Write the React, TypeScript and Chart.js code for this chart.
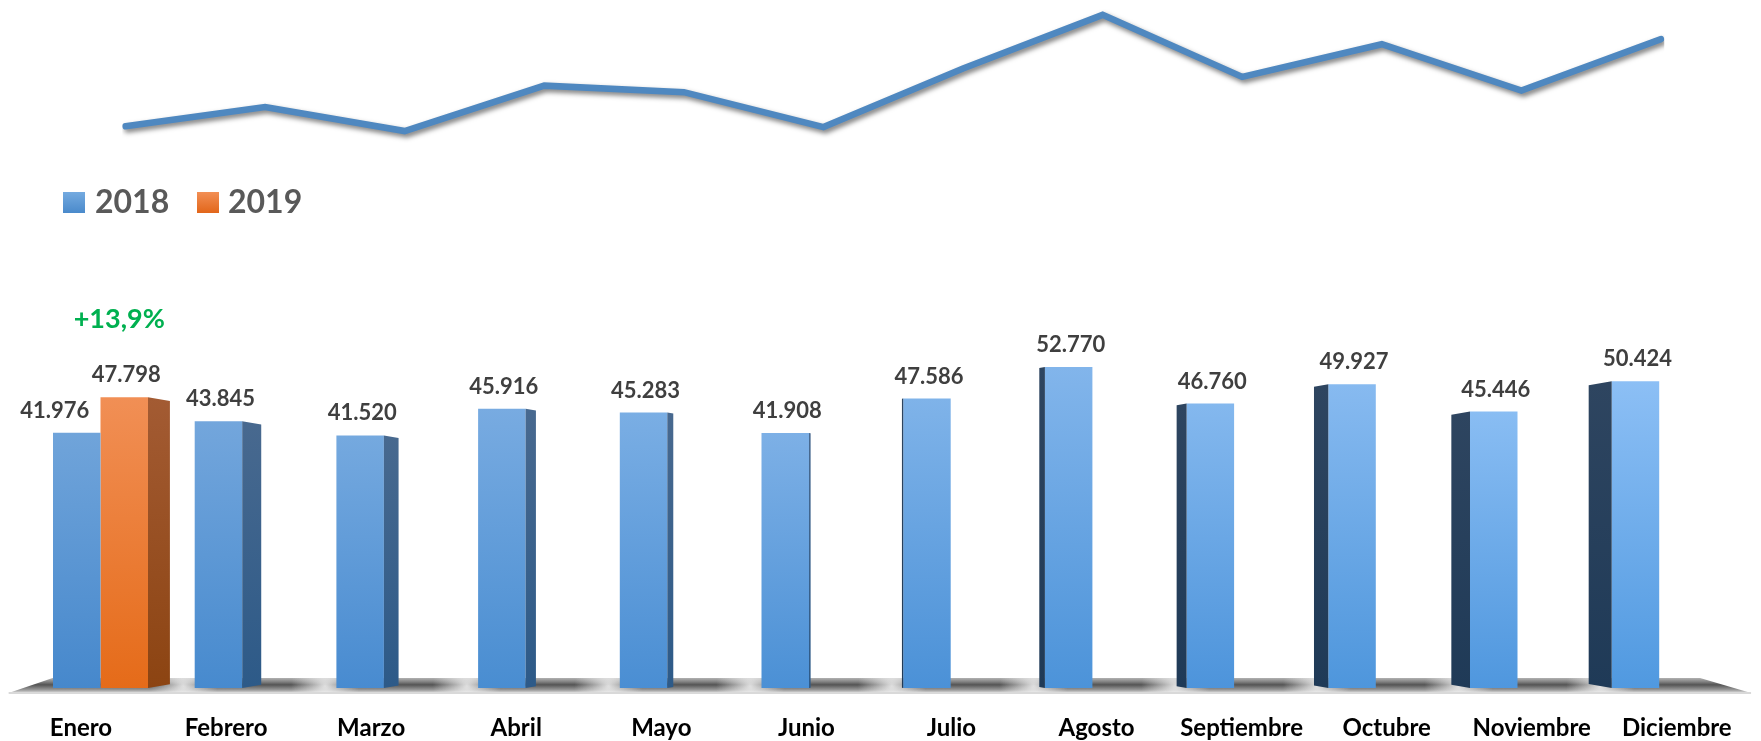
import React, { useEffect, useRef } from 'react';
import { Chart, registerables } from 'chart.js';

Chart.register(...registerables);

// ---------- data ----------
const MONTHS = ['Enero', 'Febrero', 'Marzo', 'Abril', 'Mayo', 'Junio', 'Julio', 'Agosto', 'Septiembre', 'Octubre', 'Noviembre', 'Diciembre'];
const SALES_2018 = [41976, 43845, 41520, 45916, 45283, 41908, 47586, 52770, 46760, 49927, 45446, 50424];
const SALES_2019: (number | null)[] = [47798, null, null, null, null, null, null, null, null, null, null, null];
const SERIES_LABELS = ['2018', '2019'];
const CHANGE_LABEL = '+13,9%';

const FONT = 'Lato, "Open Sans", sans-serif';

function fmt(v: number): string {
  const th = Math.floor(v / 1000);
  const rest = String(v % 1000).padStart(3, '0');
  return th + '.' + rest;
}

function lerp(a: number[], b: number[], t: number) {
  return `rgb(${Math.round(a[0] + (b[0] - a[0]) * t)},${Math.round(a[1] + (b[1] - a[1]) * t)},${Math.round(a[2] + (b[2] - a[2]) * t)})`;
}

const BLUE_TOP_L = [112, 164, 218];
const BLUE_TOP_R = [140, 191, 245];
const BLUE_BOT_L = [70, 136, 204];
const BLUE_BOT_R = [80, 153, 224];

function barFill(c: any) {
  const chart = c.chart;
  const area = chart.chartArea;
  const ds = c.datasetIndex;
  if (!area || c.raw == null) return ds === 0 ? '#5b9bd5' : '#ed7d31';
  const ys = chart.scales.y;
  const top = ys.getPixelForValue(c.raw);
  const bot = ys.getPixelForValue(0);
  const g = chart.ctx.createLinearGradient(0, top, 0, bot);
  if (ds === 1) {
    g.addColorStop(0, '#f18f55');
    g.addColorStop(1, '#e56b19');
  } else {
    const t = c.dataIndex / (MONTHS.length - 1);
    g.addColorStop(0, lerp(BLUE_TOP_L, BLUE_TOP_R, t));
    g.addColorStop(1, lerp(BLUE_BOT_L, BLUE_BOT_R, t));
  }
  return g;
}

const barDecor = {
  id: 'barDecor3d',
  beforeDatasetsDraw(chart: any) {
    const { ctx, chartArea } = chart;
    const yb = chart.scales.y.getPixelForValue(0);
    const L = chartArea.left;
    const R = chartArea.right;
    ctx.save();
    ctx.beginPath();
    ctx.moveTo(L + 23, yb - 10);
    ctx.lineTo(R - 30, yb - 10);
    ctx.lineTo(R + 21, yb + 5);
    ctx.lineTo(L - 21, yb + 5);
    ctx.closePath();
    const g = ctx.createLinearGradient(0, yb - 10, 0, yb + 5);
    g.addColorStop(0, 'rgba(150,150,150,0.75)');
    g.addColorStop(0.45, 'rgba(75,75,75,0.95)');
    g.addColorStop(0.8, 'rgba(150,150,150,0.95)');
    g.addColorStop(1, 'rgba(228,228,228,1)');
    ctx.fillStyle = g;
    ctx.fill();
    ctx.clip();
    // light patches between the bar groups
    const xs = chart.scales.x;
    for (let i = 0; i < MONTHS.length - 1; i++) {
      const mx = (xs.getPixelForValue(i) + xs.getPixelForValue(i + 1)) / 2 + 12;
      const hg = ctx.createRadialGradient(mx, yb - 2, 0, mx, yb - 2, 34);
      hg.addColorStop(0, 'rgba(245,245,245,0.85)');
      hg.addColorStop(1, 'rgba(245,245,245,0)');
      ctx.fillStyle = hg;
      ctx.fillRect(mx - 40, yb - 12, 80, 18);
    }
    ctx.restore();
    ctx.save();
    ctx.fillStyle = '#d9d9d9';
    ctx.fillRect(L - 21, yb + 4, R - L + 42, 2);
    ctx.restore();
  },
  afterDatasetsDraw(chart: any) {
    const { ctx, chartArea } = chart;
    const x0 = chartArea.left + 0.4895 * (chartArea.right - chartArea.left);
    const k = 0.0307;
    ctx.save();
    [0, 1].forEach((di) => {
      const meta = chart.getDatasetMeta(di);
      const values = di === 0 ? SALES_2018 : SALES_2019;
      meta.data.forEach((bar: any, i: number) => {
        const v = values[i];
        if (v == null) return;
        const { x, y, base, width } = bar.getProps(['x', 'y', 'base', 'width'], true);
        const xl = x - width / 2;
        const xr = x + width / 2;
        if (xr < x0) {
          const hidden = di === 0 && SALES_2019[i] != null;
          if (!hidden) {
            const s = k * (x0 - xr);
            const d = 0.17 * s;
            const g = ctx.createLinearGradient(0, y, 0, base);
            if (di === 1) {
              g.addColorStop(0, '#a35b33');
              g.addColorStop(1, '#8c4412');
            } else {
              g.addColorStop(0, '#48698f');
              g.addColorStop(1, '#2d5a88');
            }
            ctx.fillStyle = g;
            ctx.beginPath();
            ctx.moveTo(xr, y);
            ctx.lineTo(xr + s, y + d);
            ctx.lineTo(xr + s, base - d);
            ctx.lineTo(xr, base);
            ctx.closePath();
            ctx.fill();
          }
        } else if (xl > x0 && di === 0) {
          const s = k * (xl - x0);
          const d = 0.17 * s;
          const g = ctx.createLinearGradient(0, y, 0, base);
          g.addColorStop(0, '#2e4560');
          g.addColorStop(1, '#1f3a57');
          ctx.fillStyle = g;
          ctx.beginPath();
          ctx.moveTo(xl, y);
          ctx.lineTo(xl - s, y + d);
          ctx.lineTo(xl - s, base - d);
          ctx.lineTo(xl, base);
          ctx.closePath();
          ctx.fill();
        }
        let lx = x + 2;
        if (di === 0 && SALES_2019[i] != null) lx = x - 22;
        ctx.font = `bold 22px ${FONT}`;
        ctx.fillStyle = '#3f3f3f';
        ctx.textAlign = 'center';
        ctx.textBaseline = 'alphabetic';
        ctx.fillText(fmt(v), lx, y - 15);
        if (di === 1) {
          ctx.font = `bold 27px ${FONT}`;
          ctx.fillStyle = '#00b050';
          ctx.fillText(CHANGE_LABEL, x - 5, y - 69);
        }
      });
    });

    const items = [
      { label: SERIES_LABELS[0], bx: 63, tx: 95, top: '#74aae0', bot: '#4a8acb' },
      { label: SERIES_LABELS[1], bx: 197, tx: 228, top: '#f28f55', bot: '#e2661a' },
    ];
    items.forEach((it) => {
      const g = ctx.createLinearGradient(0, 192, 0, 213);
      g.addColorStop(0, it.top);
      g.addColorStop(1, it.bot);
      ctx.fillStyle = g;
      ctx.fillRect(it.bx, 192, 22, 21);
      ctx.font = `bold 32px ${FONT}`;
      ctx.fillStyle = '#595959';
      ctx.textAlign = 'left';
      ctx.textBaseline = 'alphabetic';
      ctx.fillText(it.label, it.tx, 213);
    });
    ctx.restore();
  },
};

const lineShadow = {
  id: 'lineShadow',
  beforeDatasetDraw(chart: any) {
    const ctx = chart.ctx;
    ctx.save();
    ctx.shadowColor = 'rgba(0,0,0,0.5)';
    ctx.shadowBlur = 5;
    ctx.shadowOffsetX = 2;
    ctx.shadowOffsetY = 3;
  },
  afterDatasetDraw(chart: any) {
    chart.ctx.restore();
  },
};

export default function App() {
  const barRef = useRef<HTMLCanvasElement | null>(null);
  const lineRef = useRef<HTMLCanvasElement | null>(null);

  useEffect(() => {
    if (!barRef.current || !lineRef.current) return;
    const bars = new Chart(barRef.current, {
      type: 'bar',
      data: {
        labels: MONTHS,
        datasets: [
          { label: SERIES_LABELS[0], data: SALES_2018, backgroundColor: barFill, borderWidth: 0 },
          { label: SERIES_LABELS[1], data: SALES_2019, backgroundColor: barFill, borderWidth: 0 },
        ],
      },
      options: {
        responsive: false,
        animation: false,
        devicePixelRatio: 1,
        layout: { padding: { left: 29.65, right: 30.95, top: 0, bottom: 0 } },
        categoryPercentage: 0.6704,
        barPercentage: 1,
        plugins: { legend: { display: false }, tooltip: { enabled: false } },
        scales: {
          x: { type: 'category', display: false, offset: true },
          xl: {
            type: 'linear',
            position: 'bottom',
            offset: false,
            min: -0.354,
            max: 11.367,
            grid: { display: false, drawTicks: false, offset: false },
            border: { display: false },
            ticks: {
              autoSkip: false,
              maxRotation: 0,
              padding: 26,
              color: '#000000',
              font: { family: FONT, size: 24, weight: 'bold' },
              callback: (v: any) => MONTHS[v as number],
            },
            afterBuildTicks: (s: any) => {
              s.ticks = MONTHS.map((_, i) => ({ value: i }));
            },
            afterFit: (s: any) => {
              s.height = 53;
            },
          } as any,
          y: { display: false, min: 0, max: 113100 },
        },
      } as any,
      plugins: [barDecor],
    });

    const line = new Chart(lineRef.current, {
      type: 'line',
      data: {
        labels: MONTHS,
        datasets: [
          {
            label: SERIES_LABELS[0],
            data: SALES_2018,
            borderColor: '#4f88c0',
            borderWidth: 6.5,
            borderCapStyle: 'round',
            borderJoinStyle: 'miter',
            pointRadius: 0,
            fill: false,
            tension: 0,
          } as any,
        ],
      },
      options: {
        responsive: false,
        animation: false,
        devicePixelRatio: 1,
        layout: { padding: { left: 125.5, right: 100, top: 0, bottom: 0 } },
        plugins: { legend: { display: false }, tooltip: { enabled: false } },
        scales: {
          x: { type: 'category', display: false, offset: false },
          y: { display: false, min: -17220, max: 53893 },
        },
      } as any,
      plugins: [lineShadow],
    });

    let alive = true;
    if ((document as any).fonts) {
      (document as any).fonts.load(`bold 22px Lato`).then(() => {
        if (alive) {
          bars.update();
          line.update();
        }
      });
    }
    return () => {
      alive = false;
      bars.destroy();
      line.destroy();
    };
  }, []);

  return (
    <div style={{ position: 'absolute', left: 0, top: 0, width: 1761, height: 741, background: '#ffffff' }}>
      <canvas ref={barRef} width={1761} height={741} style={{ position: 'absolute', left: 0, top: 0, display: 'block', width: 1761, height: 741 }} />
      <canvas ref={lineRef} width={1761} height={741} style={{ position: 'absolute', left: 0, top: 0, display: 'block', width: 1761, height: 741 }} />
    </div>
  );
}
